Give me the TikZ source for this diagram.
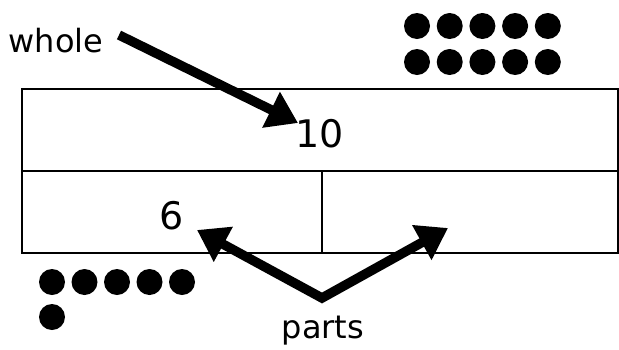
\documentclass[tikz,border=0pt]{standalone}
\usepackage{fontspec}
\setmainfont{DejaVu Sans}
\usetikzlibrary{positioning, arrows.meta}

\begin{document}
\begin{tikzpicture}[
        x=1pt, y=-1pt,
        % Style for the bar model cells
        barcell/.style={
            draw,
            line width=2.5pt,
            minimum height=82pt,
            inner sep=0pt,
            outer sep=0pt,
            text height=36pt,
            font=\fontsize{38}{44}\selectfont
        },
        % Style for the counting dots
        counter/.style={
            circle,
            fill=black,
            minimum size=26pt,
            inner sep=0pt
        },
        % Style for the word labels
        labeltext/.style={
            inner sep=0pt,
            font=\fontsize{32}{38}\selectfont
        },
        % Style for the thick pointer arrows
        fatarrow/.style={
            line width=9.5pt,
            line join=miter,
            -{Triangle[length=30pt, width=38pt]}
        }
    ]
    \useasboundingbox (0,0) rectangle (619,349);

    % ==========================================
    % BAR MODEL
    % ==========================================
    \node[barcell, minimum width=596pt] (total) at (320,130) {10};
    \node[barcell, minimum width=300pt, anchor=north west] (partA) at (total.south west) {6};
    \node[barcell, minimum width=296pt, anchor=north west] (partB) at (partA.north east) {};

    % ==========================================
    % DOTS
    % ==========================================
    \foreach \i in {0,...,4} {
        \node[counter] (tenA\i) at (417+32.7*\i, 26) {};
        \node[counter] (tenB\i) at (417+32.7*\i, 62) {};
        \node[counter] (six\i) at (52+32.5*\i, 282) {};
    }
    \node[counter] (six5) at (52, 317) {};

    % ==========================================
    % LABELS AND ARROWS
    % ==========================================
    \node[labeltext] (wholelabel) at (56,41) {whole};
    \node[labeltext] (partslabel) at (323,331) {parts};

    \coordinate (wholetail) at (119,35);
    \coordinate (wholetip) at (298,123);
    \coordinate (vee) at (322,298);
    \coordinate (lefttip) at (197,230);
    \coordinate (righttip) at (448,228);

    \draw[fatarrow] (wholetail) -- (wholetip);
    \draw[fatarrow, {Triangle[length=30pt, width=38pt]}-{Triangle[length=30pt, width=38pt]}] (lefttip) -- (vee) -- (righttip);
\end{tikzpicture}
\end{document}
